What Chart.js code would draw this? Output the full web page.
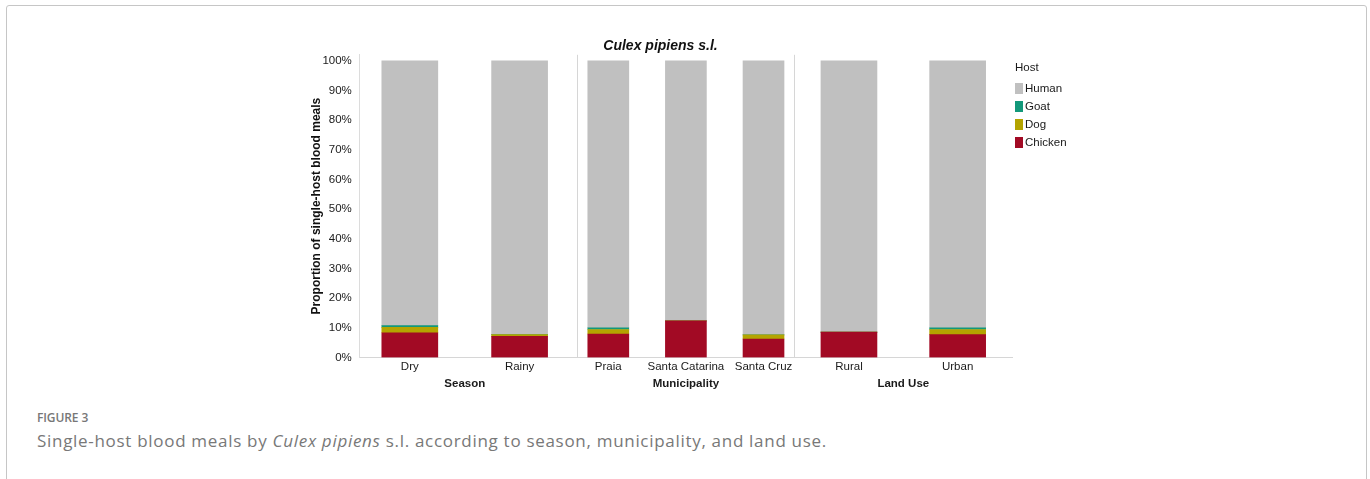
<!DOCTYPE html>
<html>
<head>
<meta charset="utf-8">
<script src="https://cdn.jsdelivr.net/npm/chart.js@4.4.1/dist/chart.umd.min.js"></script>
<style>
  body { margin: 0; background: #fff; width: 1370px; height: 479px; overflow: hidden; }
  #frame { position: absolute; left: 6px; top: 5px; width: 1359px; height: 540px; border: 1px solid #c6c6c6; border-radius: 3px; }
  #wrap { position: absolute; left: 300px; top: 30px; width: 717px; height: 361px; }
  #legenda { position: absolute; left: 1015px; top: 59px; font: 11.5px "Liberation Sans", Arial, sans-serif; color: #1a1a1a; }
  #legenda .titulo { height: 16px; line-height: 16px; margin-bottom: 4px; }
  #legenda ul { list-style: none; margin: 0; padding: 0; }
  #legenda li { height: 18px; line-height: 18px; display: flex; align-items: center; }
  #legenda li span { display: inline-block; width: 8px; height: 11px; margin-right: 2px; }
  .fig { position: absolute; left: 37px; top: 409px; font: 600 12px "Open Sans", sans-serif; color: #777; letter-spacing: -0.1px; }
  .cap { position: absolute; left: 37px; top: 429px; font: 17px "Open Sans", sans-serif; color: #787878; letter-spacing: 0.7px; }
</style>
</head>
<body>
<div id="frame"></div>
<div id="wrap"><canvas id="grafico"></canvas></div>
<div id="legenda"></div>
<div class="fig">FIGURE 3</div>
<div class="cap">Single-host blood meals by <i>Culex pipiens</i> s.l. according to season, municipality, and land use.</div>
<script>
// categorias e grupos
const categories = ['Dry', 'Rainy', 'Praia', 'Santa Catarina', 'Santa Cruz', 'Rural', 'Urban'];
const groupNames = ['Season', 'Municipality', 'Land Use'];
const groupOf = [0, 0, 1, 1, 1, 2, 2];
const xPos = [0.23, 0.735, 1.143, 1.5, 1.857, 2.25, 2.75];
const groupCenters = [0.483, 1.5, 2.5];
const dividers = [1, 2];

// valores (%)
const chicken = [8.3, 7.1, 7.9, 12.3, 6.2, 8.5, 7.7];
const dog = [1.8, 0.6, 1.5, 0, 1.4, 0, 1.7];
const goat = [0.6, 0, 0.6, 0, 0, 0, 0.6];
const human = [89.3, 92.3, 90.0, 87.7, 92.4, 91.5, 90.0];

const yTicks = [0, 10, 20, 30, 40, 50, 60, 70, 80, 90, 100];

const hosts = ['Chicken', 'Dog', 'Goat', 'Human'];
const hostValues = [chicken, dog, goat, human];
const hostColors = ['#a20a24', '#b4a400', '#12987a', '#c0c0c0'];

const fonte = 'Liberation Sans, Arial, sans-serif';
Chart.defaults.font.family = fonte;
Chart.defaults.color = '#1a1a1a';

// barras largas (Season, Land Use) e estreitas (Municipality)
function montaDataset(h, largas) {
    const pontos = [];
    categories.forEach((c, i) => {
        const ehLarga = groupOf[i] !== 1;
        if (ehLarga === largas) pontos.push({ x: xPos[i], y: hostValues[h][i] });
    });
    return {
        label: hosts[h],
        data: pontos,
        backgroundColor: hostColors[h],
        borderWidth: 0,
        barThickness: largas ? 56 : 41,
        stack: 'host'
    };
}

const datasets = [];
hosts.forEach((h, i) => datasets.push(montaDataset(i, true)));
hosts.forEach((h, i) => datasets.push(montaDataset(i, false)));

// legenda em HTML, fora do canvas
const htmlLegend = {
    id: 'htmlLegend',
    afterUpdate(chart) {
        const box = document.getElementById('legenda');
        box.innerHTML = '<div class="titulo">Host</div>';
        const ul = document.createElement('ul');
        const itens = chart.options.plugins.legend.labels.generateLabels(chart)
            .filter(item => item.datasetIndex < hosts.length)
            .reverse();
        itens.forEach(item => {
            const li = document.createElement('li');
            const cor = document.createElement('span');
            cor.style.background = item.fillStyle;
            li.appendChild(cor);
            li.appendChild(document.createTextNode(item.text));
            ul.appendChild(li);
        });
        box.appendChild(ul);
    }
};

const ctx = document.getElementById('grafico');

new Chart(ctx, {
    type: 'bar',
    data: { datasets: datasets },
    plugins: [htmlLegend],
    options: {
        responsive: true,
        maintainAspectRatio: false,
        animation: false,
        layout: { padding: { left: 9, right: 5, top: 0, bottom: 0 } },
        plugins: {
            tooltip: { enabled: false },
            legend: { display: false },
            title: {
                display: true,
                text: 'Culex pipiens s.l.',
                color: '#111',
                font: { size: 14, weight: 'bold', style: 'italic' },
                padding: { top: 8, bottom: 0 }
            }
        },
        scales: {
            x: {
                type: 'linear',
                stacked: true,
                min: 0,
                max: 3,
                offset: false,
                afterBuildTicks: scale => {
                    scale.ticks = xPos.concat(dividers).sort((a, b) => a - b).map(v => ({ value: v }));
                },
                ticks: {
                    autoSkip: false,
                    maxRotation: 0,
                    padding: 3,
                    font: { size: 11.5 },
                    callback: v => {
                        const i = xPos.indexOf(v);
                        return i >= 0 ? categories[i] : '';
                    }
                },
                grid: {
                    offset: false,
                    drawTicks: false,
                    lineWidth: 1,
                    color: c => (c.tick && dividers.includes(c.tick.value)) ? '#d6d6d6' : 'rgba(0,0,0,0)'
                },
                border: { color: '#d6d6d6' }
            },
            x2: {
                type: 'linear',
                position: 'bottom',
                min: 0,
                max: 3,
                offset: false,
                afterBuildTicks: scale => {
                    scale.ticks = groupCenters.map(v => ({ value: v }));
                },
                ticks: {
                    autoSkip: false,
                    maxRotation: 0,
                    padding: 0,
                    font: { size: 11.5, weight: 'bold' },
                    callback: (v, i) => groupNames[i]
                },
                grid: { display: false, drawTicks: false },
                border: { display: false }
            },
            y: {
                stacked: true,
                min: 0,
                max: 102,
                afterBuildTicks: scale => {
                    scale.ticks = yTicks.map(v => ({ value: v }));
                },
                ticks: {
                    padding: 8,
                    font: { size: 11.5 },
                    callback: v => v + '%'
                },
                grid: { display: false, drawTicks: false },
                border: { color: '#dcdcdc' },
                title: {
                    display: true,
                    text: 'Proportion of single-host blood meals',
                    font: { size: 12, weight: 'bold' },
                    color: '#111',
                    padding: { top: 0, bottom: -9 }
                }
            }
        }
    }
});
</script>
</body>
</html>
